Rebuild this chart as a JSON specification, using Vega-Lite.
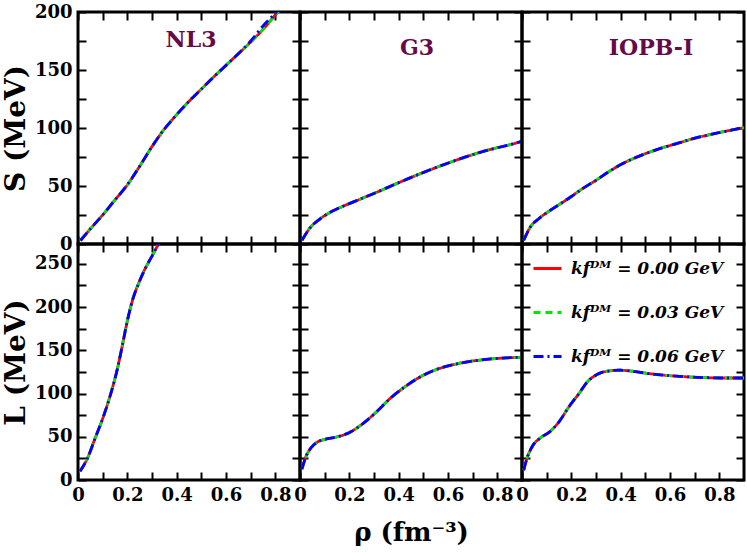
{
"$schema": "https://vega.github.io/schema/vega-lite/v6.json",
"padding": {"left": 0, "top": 1, "right": 2, "bottom": 0},
"background": "white",
"config": {
  "view": {"stroke": "black", "strokeWidth": 3},
  "axis": {"domain": false, "grid": false, "tickColor": "black", "tickWidth": 2, "tickSize": -8, "labelPadding": 14, "labelFont": "DejaVu Serif", "labelFontWeight": "bold", "labelFontSize": 18, "labelColor": "black", "labelFlush": false, "labelOverlap": false, "titleFont": "DejaVu Serif", "titleFontWeight": "bold", "titleFontSize": 28, "titleColor": "black", "titlePadding": 4},
  "line": {"strokeWidth": 2.8, "interpolate": "monotone"},
  "title": {"font": "DejaVu Serif", "fontWeight": "bold", "fontSize": 22, "color": "#660a48", "offset": -49, "anchor": "middle"}
},
"datasets": {"c": [
{"m":"NL3","q":"S","rho":0.01,"k0":3,"k3":3,"k6":3},
{"m":"NL3","q":"S","rho":0.05,"k0":13,"k3":13,"k6":13},
{"m":"NL3","q":"S","rho":0.1,"k0":25,"k3":25,"k6":25},
{"m":"NL3","q":"S","rho":0.15,"k0":38,"k3":38,"k6":38},
{"m":"NL3","q":"S","rho":0.2,"k0":51,"k3":51,"k6":51},
{"m":"NL3","q":"S","rho":0.25,"k0":67,"k3":67,"k6":67},
{"m":"NL3","q":"S","rho":0.3,"k0":84,"k3":84,"k6":84},
{"m":"NL3","q":"S","rho":0.35,"k0":99,"k3":99,"k6":99},
{"m":"NL3","q":"S","rho":0.4,"k0":111.5,"k3":111.5,"k6":111.5},
{"m":"NL3","q":"S","rho":0.45,"k0":123,"k3":123,"k6":123},
{"m":"NL3","q":"S","rho":0.5,"k0":133.5,"k3":133.5,"k6":133.5},
{"m":"NL3","q":"S","rho":0.55,"k0":144,"k3":144,"k6":144},
{"m":"NL3","q":"S","rho":0.6,"k0":154,"k3":154,"k6":154},
{"m":"NL3","q":"S","rho":0.65,"k0":164,"k3":164,"k6":164},
{"m":"NL3","q":"S","rho":0.7,"k0":174,"k3":174,"k6":175},
{"m":"NL3","q":"S","rho":0.75,"k0":185,"k3":185,"k6":188},
{"m":"NL3","q":"S","rho":0.8,"k0":197.5,"k3":197.5,"k6":199},
{"m":"NL3","q":"S","rho":0.85,"k0":210,"k3":210,"k6":211},
{"m":"NL3","q":"L","rho":0.008,"k0":10,"k3":10,"k6":10},
{"m":"NL3","q":"L","rho":0.038,"k0":25,"k3":25,"k6":25},
{"m":"NL3","q":"L","rho":0.069,"k0":48,"k3":48,"k6":48},
{"m":"NL3","q":"L","rho":0.105,"k0":75,"k3":75,"k6":75},
{"m":"NL3","q":"L","rho":0.133,"k0":100,"k3":100,"k6":100},
{"m":"NL3","q":"L","rho":0.16,"k0":129,"k3":129,"k6":129},
{"m":"NL3","q":"L","rho":0.18,"k0":156,"k3":156,"k6":156},
{"m":"NL3","q":"L","rho":0.2,"k0":184,"k3":184,"k6":184},
{"m":"NL3","q":"L","rho":0.22,"k0":207,"k3":207,"k6":207},
{"m":"NL3","q":"L","rho":0.248,"k0":229,"k3":229,"k6":229},
{"m":"NL3","q":"L","rho":0.275,"k0":246,"k3":246,"k6":246},
{"m":"NL3","q":"L","rho":0.3,"k0":259,"k3":259,"k6":259},
{"m":"NL3","q":"L","rho":0.315,"k0":267,"k3":267,"k6":267},
{"m":"NL3","q":"L","rho":0.35,"k0":285,"k3":285,"k6":285},
{"m":"G3","q":"S","rho":0.008,"k0":3.2,"k3":3.2,"k6":3.2},
{"m":"G3","q":"S","rho":0.038,"k0":13.2,"k3":13.2,"k6":13.2},
{"m":"G3","q":"S","rho":0.079,"k0":21.3,"k3":21.3,"k6":21.3},
{"m":"G3","q":"S","rho":0.12,"k0":27,"k3":27,"k6":27},
{"m":"G3","q":"S","rho":0.174,"k0":32.5,"k3":32.5,"k6":32.5},
{"m":"G3","q":"S","rho":0.242,"k0":38.5,"k3":38.5,"k6":38.5},
{"m":"G3","q":"S","rho":0.31,"k0":44.5,"k3":44.5,"k6":44.5},
{"m":"G3","q":"S","rho":0.378,"k0":50.8,"k3":50.8,"k6":50.8},
{"m":"G3","q":"S","rho":0.446,"k0":57,"k3":57,"k6":57},
{"m":"G3","q":"S","rho":0.528,"k0":64,"k3":64,"k6":64},
{"m":"G3","q":"S","rho":0.61,"k0":70.5,"k3":70.5,"k6":70.5},
{"m":"G3","q":"S","rho":0.691,"k0":76.4,"k3":76.4,"k6":76.4},
{"m":"G3","q":"S","rho":0.773,"k0":81.6,"k3":81.6,"k6":81.6},
{"m":"G3","q":"S","rho":0.84,"k0":85,"k3":85,"k6":85},
{"m":"G3","q":"S","rho":0.9,"k0":88.5,"k3":88.5,"k6":88.5},
{"m":"IOPB","q":"S","rho":0.007,"k0":3.2,"k3":3.2,"k6":3.2},
{"m":"IOPB","q":"S","rho":0.034,"k0":14.7,"k3":14.7,"k6":14.7},
{"m":"IOPB","q":"S","rho":0.068,"k0":21.8,"k3":21.8,"k6":21.8},
{"m":"IOPB","q":"S","rho":0.109,"k0":28.2,"k3":28.2,"k6":28.2},
{"m":"IOPB","q":"S","rho":0.15,"k0":33.9,"k3":33.9,"k6":33.9},
{"m":"IOPB","q":"S","rho":0.197,"k0":40.5,"k3":40.5,"k6":40.5},
{"m":"IOPB","q":"S","rho":0.245,"k0":47.7,"k3":47.7,"k6":47.7},
{"m":"IOPB","q":"S","rho":0.3,"k0":54.9,"k3":54.9,"k6":54.9},
{"m":"IOPB","q":"S","rho":0.354,"k0":62.6,"k3":62.6,"k6":62.6},
{"m":"IOPB","q":"S","rho":0.408,"k0":69.3,"k3":69.3,"k6":69.3},
{"m":"IOPB","q":"S","rho":0.483,"k0":76.4,"k3":76.4,"k6":76.4},
{"m":"IOPB","q":"S","rho":0.558,"k0":82.2,"k3":82.2,"k6":82.2},
{"m":"IOPB","q":"S","rho":0.626,"k0":86.5,"k3":86.5,"k6":86.5},
{"m":"IOPB","q":"S","rho":0.694,"k0":90.8,"k3":90.8,"k6":90.8},
{"m":"IOPB","q":"S","rho":0.762,"k0":94.3,"k3":94.3,"k6":94.3},
{"m":"IOPB","q":"S","rho":0.83,"k0":97.4,"k3":97.4,"k6":97.4},
{"m":"IOPB","q":"S","rho":0.9,"k0":100.3,"k3":100.3,"k6":100.3},
{"m":"G3","q":"L","rho":0.008,"k0":12.7,"k3":12.7,"k6":12.7},
{"m":"G3","q":"L","rho":0.024,"k0":27,"k3":27,"k6":27},
{"m":"G3","q":"L","rho":0.045,"k0":37.3,"k3":37.3,"k6":37.3},
{"m":"G3","q":"L","rho":0.072,"k0":44.2,"k3":44.2,"k6":44.2},
{"m":"G3","q":"L","rho":0.099,"k0":46.9,"k3":46.9,"k6":46.9},
{"m":"G3","q":"L","rho":0.147,"k0":49.6,"k3":49.6,"k6":49.6},
{"m":"G3","q":"L","rho":0.201,"k0":55,"k3":55,"k6":55},
{"m":"G3","q":"L","rho":0.256,"k0":65.4,"k3":65.4,"k6":65.4},
{"m":"G3","q":"L","rho":0.31,"k0":78.8,"k3":78.8,"k6":78.8},
{"m":"G3","q":"L","rho":0.365,"k0":94.2,"k3":94.2,"k6":94.2},
{"m":"G3","q":"L","rho":0.419,"k0":106.5,"k3":106.5,"k6":106.5},
{"m":"G3","q":"L","rho":0.487,"k0":119.2,"k3":119.2,"k6":119.2},
{"m":"G3","q":"L","rho":0.555,"k0":128,"k3":128,"k6":128},
{"m":"G3","q":"L","rho":0.623,"k0":133.5,"k3":133.5,"k6":133.5},
{"m":"G3","q":"L","rho":0.691,"k0":137.3,"k3":137.3,"k6":137.3},
{"m":"G3","q":"L","rho":0.773,"k0":140,"k3":140,"k6":140},
{"m":"G3","q":"L","rho":0.854,"k0":141.5,"k3":141.5,"k6":141.5},
{"m":"G3","q":"L","rho":0.9,"k0":142,"k3":142,"k6":142},
{"m":"IOPB","q":"L","rho":0.007,"k0":11.5,"k3":11.5,"k6":11.5},
{"m":"IOPB","q":"L","rho":0.02,"k0":25,"k3":25,"k6":25},
{"m":"IOPB","q":"L","rho":0.041,"k0":38.5,"k3":38.5,"k6":38.5},
{"m":"IOPB","q":"L","rho":0.075,"k0":48.8,"k3":48.8,"k6":48.8},
{"m":"IOPB","q":"L","rho":0.109,"k0":55,"k3":55,"k6":55},
{"m":"IOPB","q":"L","rho":0.15,"k0":67.3,"k3":67.3,"k6":67.3},
{"m":"IOPB","q":"L","rho":0.19,"k0":84.6,"k3":84.6,"k6":84.6},
{"m":"IOPB","q":"L","rho":0.231,"k0":100,"k3":100,"k6":100},
{"m":"IOPB","q":"L","rho":0.265,"k0":113.5,"k3":113.5,"k6":113.5},
{"m":"IOPB","q":"L","rho":0.306,"k0":122.3,"k3":122.3,"k6":122.3},
{"m":"IOPB","q":"L","rho":0.354,"k0":126.2,"k3":126.2,"k6":126.2},
{"m":"IOPB","q":"L","rho":0.395,"k0":127,"k3":127,"k6":127},
{"m":"IOPB","q":"L","rho":0.449,"k0":125.8,"k3":125.8,"k6":125.8},
{"m":"IOPB","q":"L","rho":0.517,"k0":123,"k3":123,"k6":123},
{"m":"IOPB","q":"L","rho":0.585,"k0":121,"k3":121,"k6":121},
{"m":"IOPB","q":"L","rho":0.653,"k0":119.6,"k3":119.6,"k6":119.6},
{"m":"IOPB","q":"L","rho":0.735,"k0":118.5,"k3":118.5,"k6":118.5},
{"m":"IOPB","q":"L","rho":0.816,"k0":118,"k3":118,"k6":118},
{"m":"IOPB","q":"L","rho":0.9,"k0":118,"k3":118,"k6":118}
]},
"columns": 3,
"spacing": 0,
"bounds": "flush",
"resolve": {"scale": {"color": "independent", "strokeDash": "independent"}, "legend": {"color": "independent", "strokeDash": "independent"}},
"concat": [
 {"width": 222, "height": 232, "data": {"name": "c"},
  "transform": [{"filter": "datum.m == 'NL3' && datum.q == 'S'"}, {"fold": ["k0","k3","k6"], "as": ["kf","v"]}],
  "title": {"text": "NL3", "dx": 2},
  "layer": [
   {"mark": {"type": "line", "clip": true}, "encoding": {
     "x": {"field": "rho", "type": "quantitative", "scale": {"domain": [0,0.9], "nice": false, "zero": false}, "axis": {"orient": "bottom", "values": [0,0.1,0.2,0.3,0.4,0.5,0.6,0.7,0.8], "labels": false, "title": null}},
     "y": {"field": "v", "type": "quantitative", "scale": {"domain": [0,200], "nice": false}, "axis": {"orient": "left", "values": [0,25,50,75,100,125,150,175,200], "labelExpr": "datum.value % 50 == 0 ? datum.label : ''", "title": "S (MeV)"}},
     "color": {"field": "kf", "type": "nominal", "scale": {"domain": ["k0","k3","k6"], "range": ["#ff0000","#00e600","#0000ff"]}, "legend": null},
     "strokeDash": {"field": "kf", "type": "nominal", "scale": {"domain": ["k0","k3","k6"], "range": [[1,0],[7,5],[10,4,2,4]]}, "legend": null}
   }},
   {"mark": {"type": "line", "opacity": 0, "clip": true}, "encoding": {
     "x": {"field": "rho", "type": "quantitative", "axis": {"orient": "top", "values": [0,0.1,0.2,0.3,0.4,0.5,0.6,0.7,0.8], "labels": false, "title": null}},
     "y": {"field": "v", "type": "quantitative", "axis": {"orient": "right", "values": [0,25,50,75,100,125,150,175,200], "labels": false, "title": null}}
   }}
  ],
  "resolve": {"axis": {"x": "independent", "y": "independent"}}
 },
 {"width": 222, "height": 232, "data": {"name": "c"},
  "transform": [{"filter": "datum.m == 'G3' && datum.q == 'S'"}, {"fold": ["k0","k3","k6"], "as": ["kf","v"]}],
  "title": {"text": "G3", "dx": 6},
  "layer": [
   {"mark": {"type": "line", "clip": true}, "encoding": {
     "x": {"field": "rho", "type": "quantitative", "scale": {"domain": [0,0.9], "nice": false, "zero": false}, "axis": {"orient": "bottom", "values": [0,0.1,0.2,0.3,0.4,0.5,0.6,0.7,0.8], "labels": false, "title": null}},
     "y": {"field": "v", "type": "quantitative", "scale": {"domain": [0,200], "nice": false}, "axis": {"orient": "left", "values": [0,25,50,75,100,125,150,175,200], "labels": false, "title": null}},
     "color": {"field": "kf", "type": "nominal", "scale": {"domain": ["k0","k3","k6"], "range": ["#ff0000","#00e600","#0000ff"]}, "legend": null},
     "strokeDash": {"field": "kf", "type": "nominal", "scale": {"domain": ["k0","k3","k6"], "range": [[1,0],[7,5],[10,4,2,4]]}, "legend": null}
   }},
   {"mark": {"type": "line", "opacity": 0, "clip": true}, "encoding": {
     "x": {"field": "rho", "type": "quantitative", "axis": {"orient": "top", "values": [0,0.1,0.2,0.3,0.4,0.5,0.6,0.7,0.8], "labels": false, "title": null}},
     "y": {"field": "v", "type": "quantitative", "axis": {"orient": "right", "values": [0,25,50,75,100,125,150,175,200], "labels": false, "title": null}}
   }}
  ],
  "resolve": {"axis": {"x": "independent", "y": "independent"}}
 },
 {"width": 222, "height": 232, "data": {"name": "c"},
  "transform": [{"filter": "datum.m == 'IOPB' && datum.q == 'S'"}, {"fold": ["k0","k3","k6"], "as": ["kf","v"]}],
  "title": {"text": "IOPB-I", "dx": 18},
  "layer": [
   {"mark": {"type": "line", "clip": true}, "encoding": {
     "x": {"field": "rho", "type": "quantitative", "scale": {"domain": [0,0.9], "nice": false, "zero": false}, "axis": {"orient": "bottom", "values": [0,0.1,0.2,0.3,0.4,0.5,0.6,0.7,0.8], "labels": false, "title": null}},
     "y": {"field": "v", "type": "quantitative", "scale": {"domain": [0,200], "nice": false}, "axis": {"orient": "left", "values": [0,25,50,75,100,125,150,175,200], "labels": false, "title": null}},
     "color": {"field": "kf", "type": "nominal", "scale": {"domain": ["k0","k3","k6"], "range": ["#ff0000","#00e600","#0000ff"]}, "legend": null},
     "strokeDash": {"field": "kf", "type": "nominal", "scale": {"domain": ["k0","k3","k6"], "range": [[1,0],[7,5],[10,4,2,4]]}, "legend": null}
   }},
   {"mark": {"type": "line", "opacity": 0, "clip": true}, "encoding": {
     "x": {"field": "rho", "type": "quantitative", "axis": {"orient": "top", "values": [0,0.1,0.2,0.3,0.4,0.5,0.6,0.7,0.8], "labels": false, "title": null}},
     "y": {"field": "v", "type": "quantitative", "axis": {"orient": "right", "values": [0,25,50,75,100,125,150,175,200], "labels": false, "title": null}}
   }}
  ],
  "resolve": {"axis": {"x": "independent", "y": "independent"}}
 },
 {"width": 222, "height": 236, "data": {"name": "c"},
  "transform": [{"filter": "datum.m == 'NL3' && datum.q == 'L'"}, {"fold": ["k0","k3","k6"], "as": ["kf","v"]}],
  "layer": [
   {"mark": {"type": "line", "clip": true}, "encoding": {
     "x": {"field": "rho", "type": "quantitative", "scale": {"domain": [0,0.9], "nice": false, "zero": false}, "axis": {"orient": "bottom", "values": [0,0.1,0.2,0.3,0.4,0.5,0.6,0.7,0.8], "labelExpr": "round(datum.value*10) % 2 == 0 ? (datum.value == 0 ? '0' : format(datum.value, '.1f')) : ''", "title": null}},
     "y": {"field": "v", "type": "quantitative", "scale": {"domain": [0,273], "nice": false}, "axis": {"orient": "left", "values": [0,25,50,75,100,125,150,175,200,225,250], "labelExpr": "datum.value % 50 == 0 ? datum.label : ''", "title": "L (MeV)"}},
     "color": {"field": "kf", "type": "nominal", "scale": {"domain": ["k0","k3","k6"], "range": ["#ff0000","#00e600","#0000ff"]}, "legend": null},
     "strokeDash": {"field": "kf", "type": "nominal", "scale": {"domain": ["k0","k3","k6"], "range": [[1,0],[7,5],[10,4,2,4]]}, "legend": null}
   }},
   {"mark": {"type": "line", "opacity": 0, "clip": true}, "encoding": {
     "x": {"field": "rho", "type": "quantitative", "axis": {"orient": "top", "values": [0,0.1,0.2,0.3,0.4,0.5,0.6,0.7,0.8], "labels": false, "title": null}},
     "y": {"field": "v", "type": "quantitative", "axis": {"orient": "right", "values": [0,25,50,75,100,125,150,175,200,225,250], "labels": false, "title": null}}
   }}
  ],
  "resolve": {"axis": {"x": "independent", "y": "independent"}}
 },
 {"width": 222, "height": 236, "data": {"name": "c"},
  "transform": [{"filter": "datum.m == 'G3' && datum.q == 'L'"}, {"fold": ["k0","k3","k6"], "as": ["kf","v"]}],
  "layer": [
   {"mark": {"type": "line", "clip": true}, "encoding": {
     "x": {"field": "rho", "type": "quantitative", "scale": {"domain": [0,0.9], "nice": false, "zero": false}, "axis": {"orient": "bottom", "values": [0,0.1,0.2,0.3,0.4,0.5,0.6,0.7,0.8], "labelExpr": "round(datum.value*10) % 2 == 0 ? (datum.value == 0 ? '0' : format(datum.value, '.1f')) : ''", "title": "ρ (fm⁻³)", "titlePadding": 15, "titleFontSize": 26}},
     "y": {"field": "v", "type": "quantitative", "scale": {"domain": [0,273], "nice": false}, "axis": {"orient": "left", "values": [0,25,50,75,100,125,150,175,200,225,250], "labels": false, "title": null}},
     "color": {"field": "kf", "type": "nominal", "scale": {"domain": ["k0","k3","k6"], "range": ["#ff0000","#00e600","#0000ff"]}, "legend": null},
     "strokeDash": {"field": "kf", "type": "nominal", "scale": {"domain": ["k0","k3","k6"], "range": [[1,0],[7,5],[10,4,2,4]]}, "legend": null}
   }},
   {"mark": {"type": "line", "opacity": 0, "clip": true}, "encoding": {
     "x": {"field": "rho", "type": "quantitative", "axis": {"orient": "top", "values": [0,0.1,0.2,0.3,0.4,0.5,0.6,0.7,0.8], "labels": false, "title": null}},
     "y": {"field": "v", "type": "quantitative", "axis": {"orient": "right", "values": [0,25,50,75,100,125,150,175,200,225,250], "labels": false, "title": null}}
   }}
  ],
  "resolve": {"axis": {"x": "independent", "y": "independent"}}
 },
 {"width": 222, "height": 236, "data": {"name": "c"},
  "transform": [{"filter": "datum.m == 'IOPB' && datum.q == 'L'"}, {"fold": ["k0","k3","k6"], "as": ["kf","v"]}],
  "layer": [
   {"mark": {"type": "line", "clip": true}, "encoding": {
     "x": {"field": "rho", "type": "quantitative", "scale": {"domain": [0,0.9], "nice": false, "zero": false}, "axis": {"orient": "bottom", "values": [0,0.1,0.2,0.3,0.4,0.5,0.6,0.7,0.8], "labelExpr": "round(datum.value*10) % 2 == 0 ? (datum.value == 0 ? '0' : format(datum.value, '.1f')) : ''", "title": null}},
     "y": {"field": "v", "type": "quantitative", "scale": {"domain": [0,273], "nice": false}, "axis": {"orient": "left", "values": [0,25,50,75,100,125,150,175,200,225,250], "labels": false, "title": null}},
     "color": {"field": "kf", "type": "nominal", "scale": {"domain": ["k0","k3","k6"], "range": ["#ff0000","#00e600","#0000ff"]},
       "legend": {"orient": "none", "legendX": 10, "legendY": 9, "title": null, "labelExpr": "'kfᴰᴹ = 0.0' + slice(datum.label, 1) + ' GeV'", "labelFont": "DejaVu Serif", "labelFontStyle": "italic", "labelFontWeight": "bold", "labelFontSize": 17, "labelColor": "black", "symbolType": "stroke", "symbolSize": 784, "symbolStrokeWidth": 3, "rowPadding": 20, "labelOffset": 8}},
     "strokeDash": {"field": "kf", "type": "nominal", "scale": {"domain": ["k0","k3","k6"], "range": [[1,0],[7,5],[10,4,2,4]]},
       "legend": {"orient": "none", "legendX": 10, "legendY": 9, "title": null, "labelExpr": "'kfᴰᴹ = 0.0' + slice(datum.label, 1) + ' GeV'", "labelFont": "DejaVu Serif", "labelFontStyle": "italic", "labelFontWeight": "bold", "labelFontSize": 17, "labelColor": "black", "symbolType": "stroke", "symbolSize": 784, "symbolStrokeWidth": 3, "rowPadding": 20, "labelOffset": 8}}
   }},
   {"mark": {"type": "line", "opacity": 0, "clip": true}, "encoding": {
     "x": {"field": "rho", "type": "quantitative", "axis": {"orient": "top", "values": [0,0.1,0.2,0.3,0.4,0.5,0.6,0.7,0.8], "labels": false, "title": null}},
     "y": {"field": "v", "type": "quantitative", "axis": {"orient": "right", "values": [0,25,50,75,100,125,150,175,200,225,250], "labels": false, "title": null}}
   }}
  ],
  "resolve": {"axis": {"x": "independent", "y": "independent"}}
 }
]
}
